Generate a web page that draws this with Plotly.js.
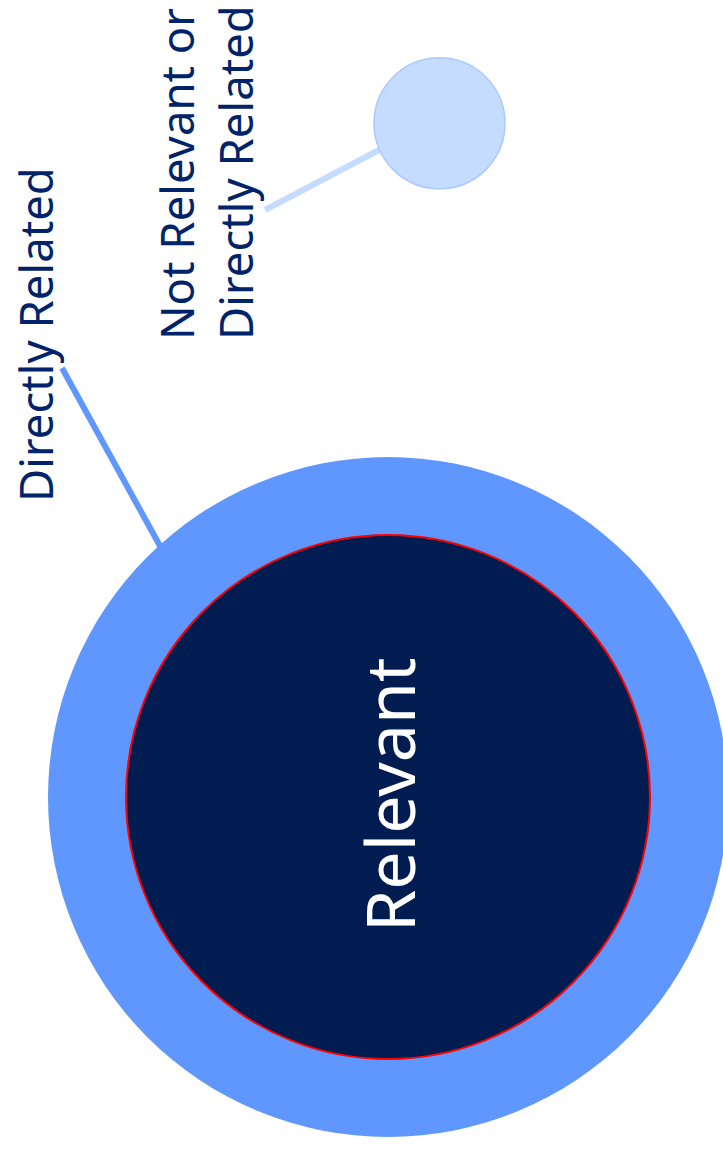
<!DOCTYPE html>
<html>
<head>
<meta charset="utf-8">
<script src="https://cdn.plot.ly/plotly-3.0.1.min.js"></script>
<style>html,body{margin:0;padding:0;background:#fff;}#chart{width:723px;height:1149px;}</style>
</head>
<body>
<div id="chart"></div>
<script>
// Circle diagram data (chart units)
const categories = ['Relevant', 'Directly Related', 'Not Relevant or<br>Directly Related'];
const radii = [262, 340, 65.5];
const centerX = [388, 388, 439.5];
const centerY = [797, 797, 123.3];
// leader line endpoints: [label end, circle end]
const leaderX = [[62, 160], [265, 379]];
const leaderY = [[368, 546], [210, 150]];
const labelX = [388, 35, 205];
const labelY = [795, 335, 173];

const fills = ['#001C50', '#6097FF', '#C5DCFF'];
const borders = ['#FF0000', '#6097FF', '#A9C9FF'];
const borderW = [2, 0, 1.5];
const drawOrder = [1, 0, 2];

const shapes = [];
drawOrder.forEach(i => {
  shapes.push({
    type: 'circle', xref: 'x', yref: 'y', layer: 'above',
    x0: centerX[i] - radii[i], x1: centerX[i] + radii[i],
    y0: centerY[i] - radii[i], y1: centerY[i] + radii[i],
    fillcolor: fills[i],
    line: {color: borders[i], width: borderW[i]}
  });
});
const leaderColors = ['#6097FF', '#C5DCFF'];
leaderX.forEach((lx, k) => {
  shapes.push({
    type: 'line', xref: 'x', yref: 'y', layer: 'below',
    x0: lx[0], x1: lx[1], y0: leaderY[k][0], y1: leaderY[k][1],
    line: {color: leaderColors[k], width: 6}
  });
});

const annotations = [
  {text: categories[0], x: labelX[0], y: labelY[0], font: {size: 68, color: '#FFFFFF'}},
  {text: categories[1], x: labelX[1], y: labelY[1], font: {size: 45.5, color: '#00236A'}},
  {text: categories[2], x: labelX[2], y: labelY[2], font: {size: 45.5, color: '#00236A'}, align: 'left'}
].map(a => Object.assign({
  xref: 'x', yref: 'y', showarrow: false, textangle: -90,
  xanchor: 'center', yanchor: 'middle'
}, a));

const layout = {
  width: 723, height: 1149,
  margin: {l: 0, r: 0, t: 0, b: 0},
  paper_bgcolor: '#FFFFFF', plot_bgcolor: '#FFFFFF',
  font: {family: '"Noto Sans", sans-serif'},
  xaxis: {range: [0, 723], visible: false, fixedrange: true},
  yaxis: {range: [1149, 0], visible: false, fixedrange: true},
  showlegend: false,
  shapes: shapes,
  annotations: annotations
};

Plotly.newPlot('chart', [{x: [], y: [], type: 'scatter', mode: 'markers', hoverinfo: 'skip'}], layout, {displayModeBar: false, staticPlot: true});
</script>
</body>
</html>
